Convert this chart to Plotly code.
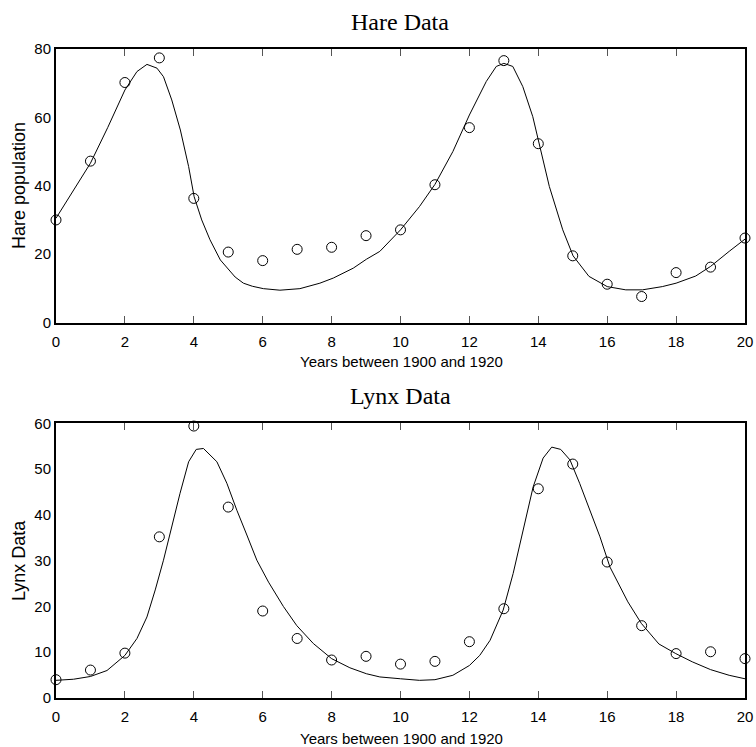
import plotly.graph_objects as go

# ---------------- data ----------------
years = list(range(0, 21))
hare_obs = [30, 47.2, 70.2, 77.4, 36.3, 20.6, 18.1, 21.4, 22, 25.4, 27.1,
            40.3, 57, 76.6, 52.3, 19.5, 11.2, 7.6, 14.6, 16.2, 24.7]
lynx_obs = [4, 6.1, 9.8, 35.2, 59.4, 41.7, 19, 13, 8.3, 9.1, 7.4,
            8, 12.3, 19.5, 45.7, 51.1, 29.7, 15.8, 9.7, 10.1, 8.6]

# fitted curves
hare_fit_t = [0, 0.5, 1.0, 1.5, 2.0, 2.35, 2.64, 2.93, 3.12, 3.36, 3.61, 3.85,
              4.01, 4.23, 4.47, 4.77, 5.0, 5.2, 5.44, 5.7, 6.02, 6.5, 7.08, 7.66,
              8.05, 8.63, 9.01, 9.4, 10.0, 10.55, 11.0, 11.52, 12.0, 12.49,
              12.78, 13.0, 13.26, 13.55, 13.84, 14.03, 14.32, 14.71, 15.01,
              15.47, 16.0, 16.54, 17.02, 17.6, 18.0, 18.57, 19.0, 19.54, 20.0]
hare_fit_v = [30.5, 38.5, 46.6, 57, 68, 73.4, 75.5, 74.4, 71.9, 65.1, 56.3, 45.6,
              36.8, 30.0, 24.2, 18.3, 15.5, 13.3, 11.5, 10.6, 9.9, 9.45, 9.9, 11.5,
              13, 15.9, 18.5, 20.8, 27.1, 33.9, 40.4, 50, 60.7, 70.5,
              74.9, 75.8, 74.9, 69, 60.2, 52.4, 39.8, 27.1, 19.5,
              13.5, 10.5, 9.55, 9.55, 10.5, 11.5, 13.6, 16.4, 20.8, 24.4]

lynx_fit_t = [0, 0.51, 1.0, 1.48, 2.0, 2.35, 2.64, 2.88, 3.12, 3.36, 3.6, 3.85,
              4.07, 4.28, 4.67, 4.96, 5.25, 5.54, 5.83, 6.17, 6.6, 6.99, 7.47,
              8.0, 8.53, 9.01, 9.4, 10.0, 10.55, 11.0, 11.52, 12.0, 12.3, 12.6,
              12.98, 13.27, 13.56, 13.85, 14.14, 14.39, 14.65, 14.92, 15.2,
              15.5, 15.79, 16.08, 16.32, 16.6, 16.99, 17.5, 17.99, 18.47,
              19.0, 19.54, 20.0]
lynx_fit_v = [3.86, 4.1, 4.7, 6.0, 9.3, 13.0, 17.7, 23.6, 30.1, 37.4, 44.7, 51.6,
              54.3, 54.5, 51.6, 46.9, 41.0, 35.6, 30.1, 25.3, 20.0, 15.8, 11.9,
              8.6, 6.6, 5.3, 4.6, 4.2, 3.86, 4.0, 4.96, 7.1, 9.3, 12.6,
              19.2, 27.2, 36.7, 46.1, 52.4, 54.8, 54.3, 52.0, 46.9,
              41.0, 35.2, 28.6, 25.0, 21.0, 16.3, 11.8, 9.7, 7.9,
              6.2, 4.96, 4.2]

x_ticks = list(range(0, 21, 2))
hare_ticks = [0, 20, 40, 60, 80]
lynx_ticks = [0, 10, 20, 30, 40, 50, 60]

# ---------------- layout helpers ----------------
W, H = 756, 747
def fx(p):
    return p / W
def fy(p):
    return 1 - p / H

X_DOM = [fx(56), fx(745)]
TOP_DOM = [fy(322.5), fy(49)]
BOT_DOM = [fy(698), fy(423.3)]

SANS = "Liberation Sans, Arial, sans-serif"
SERIF = "Liberation Serif, Times New Roman, serif"

fig = go.Figure()

fig.add_trace(go.Scatter(x=hare_fit_t, y=hare_fit_v, mode="lines",
                         line=dict(color="black", width=1),
                         xaxis="x", yaxis="y", showlegend=False))
fig.add_trace(go.Scatter(x=years, y=hare_obs, mode="markers",
                         marker=dict(symbol="circle-open", size=10, color="black",
                                     line=dict(width=1)),
                         cliponaxis=False,
                         xaxis="x", yaxis="y", showlegend=False))
fig.add_trace(go.Scatter(x=lynx_fit_t, y=lynx_fit_v, mode="lines",
                         line=dict(color="black", width=1),
                         xaxis="x2", yaxis="y2", showlegend=False))
fig.add_trace(go.Scatter(x=years, y=lynx_obs, mode="markers",
                         marker=dict(symbol="circle-open", size=10, color="black",
                                     line=dict(width=1)),
                         cliponaxis=False,
                         xaxis="x2", yaxis="y2", showlegend=False))

def xax(anchor):
    return dict(domain=X_DOM, anchor=anchor, range=[0, 20], tickvals=x_ticks,
                ticks="inside", ticklen=7, tickwidth=1, tickcolor="#555",
                showline=True, linecolor="black", linewidth=2, mirror="ticks",
                showgrid=False, zeroline=False, automargin=False,
                tickfont=dict(family=SANS, size=15, color="black"),
                ticklabelstandoff=4)

def yax(anchor, dom, rng, tv):
    return dict(domain=dom, anchor=anchor, range=rng, tickvals=tv,
                ticks="", showline=True, linecolor="black", linewidth=2,
                mirror=True, showgrid=False, zeroline=False, automargin=False,
                tickfont=dict(family=SANS, size=15, color="black"))

def yright(over, anchor, dom, rng, tv):
    return dict(overlaying=over, side="right", anchor=anchor, domain=dom,
                range=rng, tickvals=tv, ticks="inside", ticklen=7, tickwidth=1,
                tickcolor="#555", showticklabels=False, showline=False,
                showgrid=False, zeroline=False, automargin=False)

fig.update_layout(
    width=W, height=H,
    margin=dict(l=0, r=0, t=0, b=0, autoexpand=False),
    paper_bgcolor="white", plot_bgcolor="white",
    xaxis=xax("y"),
    yaxis=yax("x", TOP_DOM, [0, 80], hare_ticks),
    xaxis2=xax("y2"),
    yaxis2=yax("x2", BOT_DOM, [0, 60], lynx_ticks),
    yaxis3=yright("y", "x", TOP_DOM, [0, 80], hare_ticks),
    yaxis4=yright("y2", "x2", BOT_DOM, [0, 60], lynx_ticks),
)

ann = [
    dict(text="Hare Data", x=fx(400), y=fy(22), font=dict(family=SERIF, size=24)),
    dict(text="Lynx Data", x=fx(400), y=fy(396), font=dict(family=SERIF, size=24)),
    dict(text="Years between 1900 and 1920", x=fx(401), y=fy(361),
         font=dict(family=SANS, size=15)),
    dict(text="Years between 1900 and 1920", x=fx(401), y=fy(738),
         font=dict(family=SANS, size=15)),
    dict(text="Hare population", x=fx(19), y=fy(186), textangle=-90,
         font=dict(family=SANS, size=18)),
    dict(text="Lynx Data", x=fx(19), y=fy(561), textangle=-90,
         font=dict(family=SANS, size=18)),
]
for a in ann:
    a.update(xref="paper", yref="paper", showarrow=False,
             xanchor="center", yanchor="middle")
    a["font"]["color"] = "black"
fig.update_layout(annotations=ann)

fig.write_html("out.html")
